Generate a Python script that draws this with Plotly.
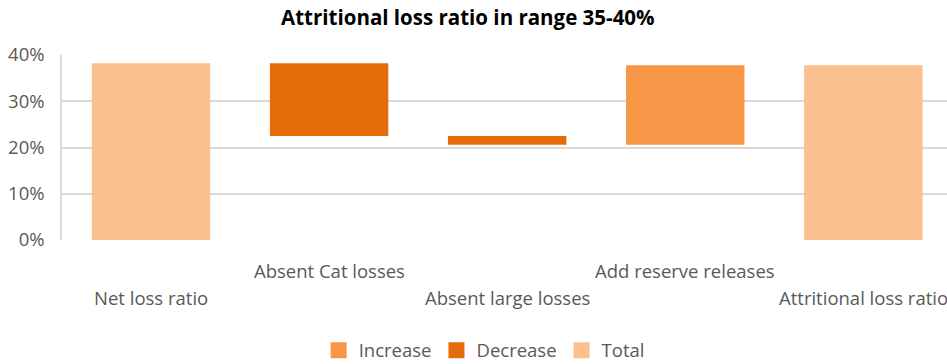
import plotly.graph_objects as go

categories = ["Net loss ratio", "Absent Cat losses", "Absent large losses", "Add reserve releases", "Attritional loss ratio"]
changes = [38.2, -15.7, -1.9, 17.2, 37.8]
kinds = ["total", "decrease", "decrease", "increase", "total"]
label_rows = [1, 0, 1, 0, 1]

colors = {"Increase": "#F79646", "Decrease": "#E46C0A", "Total": "#FAC090"}

# compute bases / heights through running total
inc_y, inc_b, dec_y, dec_b, tot_y, tot_b = [], [], [], [], [], []
running = 0.0
for c, k in zip(changes, kinds):
    if k == "total":
        running = c
        tot_y.append(c); tot_b.append(0)
        inc_y.append(None); inc_b.append(None); dec_y.append(None); dec_b.append(None)
    elif k == "decrease":
        dec_y.append(-c); dec_b.append(running + c)
        running += c
        inc_y.append(None); inc_b.append(None); tot_y.append(None); tot_b.append(None)
    else:
        inc_y.append(c); inc_b.append(running)
        running += c
        dec_y.append(None); dec_b.append(None); tot_y.append(None); tot_b.append(None)

xs = list(range(len(categories)))
fig = go.Figure()
for name, yv, bv in [("Increase", inc_y, inc_b), ("Decrease", dec_y, dec_b), ("Total", tot_y, tot_b)]:
    fig.add_trace(go.Bar(x=xs, y=yv, base=bv, name=name, marker_color=colors[name],
                         marker_line_width=0, width=0.665, hoverinfo="skip", showlegend=False))
# legend entries with larger square swatches
for name in ["Increase", "Decrease", "Total"]:
    fig.add_trace(go.Scatter(x=[None], y=[None], mode="markers", name=name,
                             marker=dict(symbol="square", size=17, color=colors[name]),
                             hoverinfo="skip"))

font_family = "Open Sans, Noto Sans, sans-serif"
for i, (cat, row) in enumerate(zip(categories, label_rows)):
    fig.add_annotation(x=i, y=0, xref="x", yref="y", text=cat, showarrow=False,
                       yshift=-30 - 27 * row, font=dict(family=font_family, size=18.5, color="#595959"))

fig.update_layout(
    width=947, height=364,
    margin=dict(l=62, r=0, t=55, b=124, autoexpand=False),
    paper_bgcolor="white", plot_bgcolor="white",
    barmode="overlay",
    title=dict(text="<b>Attritional loss ratio in range 35-40%</b>", x=0.494, xanchor="center",
               y=1 - 18 / 364, yanchor="middle", yref="container",
               font=dict(family=font_family, size=20.5, color="#000000")),
    xaxis=dict(range=[-0.5, 4.47], showticklabels=False, showgrid=False, zeroline=False,
               showline=False, ticks=""),
    yaxis=dict(range=[0, 40], dtick=10, ticksuffix="%", showgrid=True, gridcolor="#D9D9D9",
               gridwidth=1.5, zeroline=False, showline=True, linecolor="#D9D9D9", linewidth=1.5,
               tickfont=dict(family=font_family, size=18.5, color="#595959"), ticklabelstandoff=12),
    legend=dict(orientation="h", x=0.477, xanchor="center", y=-0.598, yanchor="middle",
                font=dict(family=font_family, size=18.5, color="#595959"), traceorder="normal"),
    showlegend=True,
)

fig.write_html("out.html")
